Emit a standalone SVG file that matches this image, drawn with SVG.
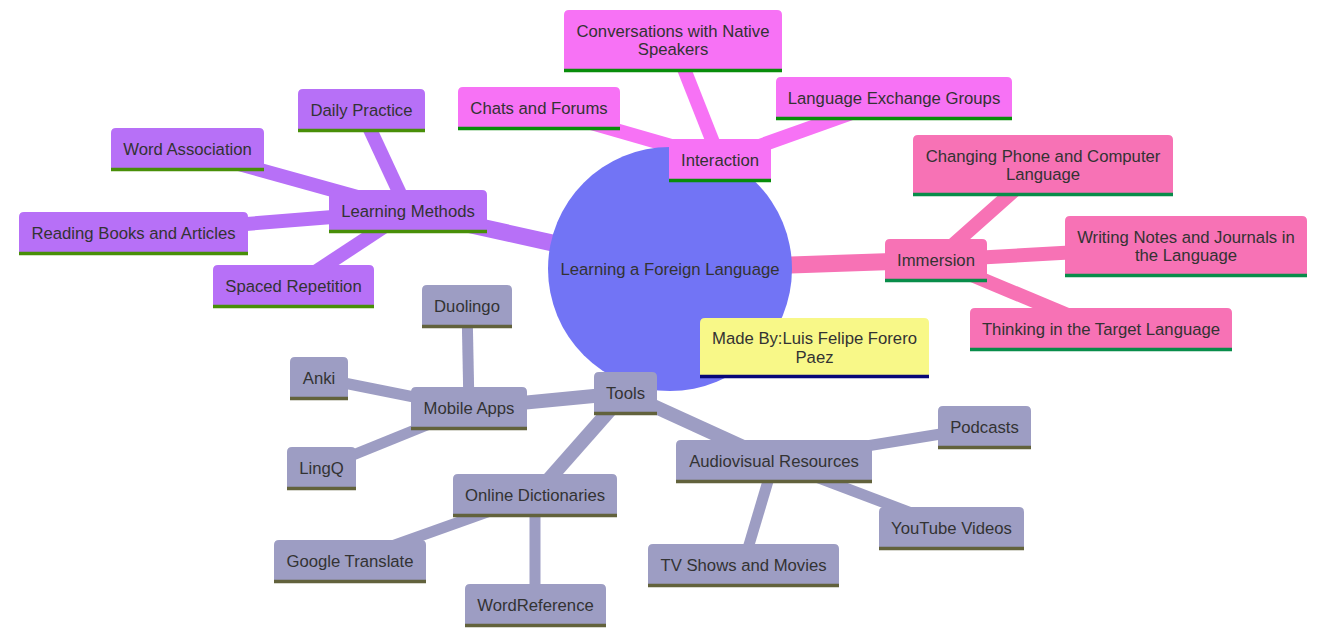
<svg xmlns="http://www.w3.org/2000/svg" width="1323" height="634" viewBox="0 0 1323 634">
<style>
text{font-family:"Liberation Sans",Arial,sans-serif;font-size:16.7px;fill:#333;text-anchor:middle;dominant-baseline:central}
.e{fill:none;stroke-linecap:butt}
.d1{stroke-width:17}.d2{stroke-width:14}.d3{stroke-width:11}
.c0{stroke:#b770f7}.c1{stroke:#f772f5}.c2{stroke:#f772b5}.c3{stroke:#9d9dc3}
.s0{fill:#b770f7}.s1{fill:#f772f5}.s2{fill:#f772b5}.s3{fill:#9d9dc3}.s4{fill:#f8f888}
.l0{stroke:#488f08;stroke-width:3.5}.l1{stroke:#088d0a;stroke-width:3.5}.l2{stroke:#088d4a;stroke-width:3.5}.l3{stroke:#62623c;stroke-width:3.5}.l4{stroke:#070777;stroke-width:3.5}
</style>
<rect width="1323" height="634" fill="#fff"/>
<g id="connectors">
<line class="e d1 c0" x1="670" y1="269" x2="408" y2="211"/>
<line class="e d1 c1" x1="670" y1="269" x2="720" y2="160"/>
<line class="e d1 c2" x1="670" y1="269" x2="936" y2="260"/>
<line class="e d1 c3" x1="670" y1="269" x2="625" y2="393"/>
<line class="e d2 c0" x1="408" y1="211" x2="361" y2="110"/>
<line class="e d2 c0" x1="408" y1="211" x2="188" y2="150"/>
<line class="e d2 c0" x1="408" y1="211" x2="133" y2="233"/>
<line class="e d2 c0" x1="408" y1="211" x2="294" y2="286"/>
<line class="e d2 c1" x1="720" y1="160" x2="673" y2="41"/>
<line class="e d2 c1" x1="720" y1="160" x2="539" y2="108"/>
<line class="e d2 c1" x1="720" y1="160" x2="894" y2="98"/>
<line class="e d2 c2" x1="936" y1="260" x2="1043" y2="165"/>
<line class="e d2 c2" x1="936" y1="260" x2="1186" y2="246"/>
<line class="e d2 c2" x1="936" y1="260" x2="1101" y2="329"/>
<line class="e d2 c3" x1="625" y1="393" x2="469" y2="408"/>
<line class="e d2 c3" x1="625" y1="393" x2="535" y2="495"/>
<line class="e d2 c3" x1="625" y1="393" x2="774" y2="461"/>
<line class="e d3 c3" x1="469" y1="408" x2="467" y2="306"/>
<line class="e d3 c3" x1="469" y1="408" x2="319" y2="378"/>
<line class="e d3 c3" x1="469" y1="408" x2="321" y2="468"/>
<line class="e d3 c3" x1="535" y1="495" x2="350" y2="561"/>
<line class="e d3 c3" x1="535" y1="495" x2="535" y2="605"/>
<line class="e d3 c3" x1="774" y1="461" x2="984" y2="427"/>
<line class="e d3 c3" x1="774" y1="461" x2="951" y2="528"/>
<line class="e d3 c3" x1="774" y1="461" x2="743" y2="565"/>
</g>
<g id="root">
<circle cx="670" cy="269" r="122" fill="#7274f5"/>
<text x="670" y="269">Learning a Foreign Language</text>
</g>
<g id="learning-methods" transform="translate(329,190)">
<path class="s0" d="M0,43V5Q0,0 5,0H153Q158,0 158,5V43Z"/><line class="l0" x1="0" y1="41.5" x2="158" y2="41.5"/>
<text x="79" y="21.5">Learning Methods</text>
</g>
<g id="daily-practice" transform="translate(298,89)">
<path class="s0" d="M0,43V5Q0,0 5,0H122Q127,0 127,5V43Z"/><line class="l0" x1="0" y1="41.5" x2="127" y2="41.5"/>
<text x="63.5" y="21.5">Daily Practice</text>
</g>
<g id="word-association" transform="translate(111,128)">
<path class="s0" d="M0,43V5Q0,0 5,0H148Q153,0 153,5V43Z"/><line class="l0" x1="0" y1="41.5" x2="153" y2="41.5"/>
<text x="76.5" y="21.5">Word Association</text>
</g>
<g id="reading-books" transform="translate(19,212)">
<path class="s0" d="M0,43V5Q0,0 5,0H224Q229,0 229,5V43Z"/><line class="l0" x1="0" y1="41.5" x2="229" y2="41.5"/>
<text x="114.5" y="21.5">Reading Books and Articles</text>
</g>
<g id="spaced-repetition" transform="translate(213,265)">
<path class="s0" d="M0,43V5Q0,0 5,0H156Q161,0 161,5V43Z"/><line class="l0" x1="0" y1="41.5" x2="161" y2="41.5"/>
<text x="80.5" y="21.5">Spaced Repetition</text>
</g>
<g id="interaction" transform="translate(669,139)">
<path class="s1" d="M0,43V5Q0,0 5,0H97Q102,0 102,5V43Z"/><line class="l1" x1="0" y1="41.5" x2="102" y2="41.5"/>
<text x="51" y="21.5">Interaction</text>
</g>
<g id="conversations" transform="translate(564,10)">
<path class="s1" d="M0,62V5Q0,0 5,0H213Q218,0 218,5V62Z"/><line class="l1" x1="0" y1="60.5" x2="218" y2="60.5"/>
<text x="109" y="21">Conversations with Native</text>
<text x="109" y="39">Speakers</text>
</g>
<g id="chats-forums" transform="translate(458,87)">
<path class="s1" d="M0,43V5Q0,0 5,0H157Q162,0 162,5V43Z"/><line class="l1" x1="0" y1="41.5" x2="162" y2="41.5"/>
<text x="81" y="21.5">Chats and Forums</text>
</g>
<g id="language-exchange" transform="translate(776,77)">
<path class="s1" d="M0,43V5Q0,0 5,0H231Q236,0 236,5V43Z"/><line class="l1" x1="0" y1="41.5" x2="236" y2="41.5"/>
<text x="118" y="21.5">Language Exchange Groups</text>
</g>
<g id="immersion" transform="translate(885,239)">
<path class="s2" d="M0,43V5Q0,0 5,0H97Q102,0 102,5V43Z"/><line class="l2" x1="0" y1="41.5" x2="102" y2="41.5"/>
<text x="51" y="21.5">Immersion</text>
</g>
<g id="changing-phone" transform="translate(913,135)">
<path class="s2" d="M0,61V5Q0,0 5,0H255Q260,0 260,5V61Z"/><line class="l2" x1="0" y1="59.5" x2="260" y2="59.5"/>
<text x="130" y="21">Changing Phone and Computer</text>
<text x="130" y="39">Language</text>
</g>
<g id="writing-notes" transform="translate(1065,216)">
<path class="s2" d="M0,61V5Q0,0 5,0H237Q242,0 242,5V61Z"/><line class="l2" x1="0" y1="59.5" x2="242" y2="59.5"/>
<text x="121" y="21">Writing Notes and Journals in</text>
<text x="121" y="39">the Language</text>
</g>
<g id="thinking" transform="translate(970,308)">
<path class="s2" d="M0,43V5Q0,0 5,0H257Q262,0 262,5V43Z"/><line class="l2" x1="0" y1="41.5" x2="262" y2="41.5"/>
<text x="131" y="21.5">Thinking in the Target Language</text>
</g>
<g id="made-by" transform="translate(700,318)">
<path class="s4" d="M0,60V5Q0,0 5,0H224Q229,0 229,5V60Z"/><line class="l4" x1="0" y1="58.5" x2="229" y2="58.5"/>
<text x="114.5" y="20">Made By:Luis Felipe Forero</text>
<text x="114.5" y="39">Paez</text>
</g>
<g id="tools" transform="translate(594,372)">
<path class="s3" d="M0,43V5Q0,0 5,0H58Q63,0 63,5V43Z"/><line class="l3" x1="0" y1="41.5" x2="63" y2="41.5"/>
<text x="31.5" y="21.5">Tools</text>
</g>
<g id="mobile-apps" transform="translate(411,387)">
<path class="s3" d="M0,43V5Q0,0 5,0H111Q116,0 116,5V43Z"/><line class="l3" x1="0" y1="41.5" x2="116" y2="41.5"/>
<text x="58" y="21.5">Mobile Apps</text>
</g>
<g id="duolingo" transform="translate(422,285)">
<path class="s3" d="M0,43V5Q0,0 5,0H85Q90,0 90,5V43Z"/><line class="l3" x1="0" y1="41.5" x2="90" y2="41.5"/>
<text x="45" y="21.5">Duolingo</text>
</g>
<g id="anki" transform="translate(290,357)">
<path class="s3" d="M0,43V5Q0,0 5,0H53Q58,0 58,5V43Z"/><line class="l3" x1="0" y1="41.5" x2="58" y2="41.5"/>
<text x="29" y="21.5">Anki</text>
</g>
<g id="lingq" transform="translate(287,447)">
<path class="s3" d="M0,43V5Q0,0 5,0H64Q69,0 69,5V43Z"/><line class="l3" x1="0" y1="41.5" x2="69" y2="41.5"/>
<text x="34.5" y="21.5">LingQ</text>
</g>
<g id="online-dictionaries" transform="translate(453,474)">
<path class="s3" d="M0,43V5Q0,0 5,0H159Q164,0 164,5V43Z"/><line class="l3" x1="0" y1="41.5" x2="164" y2="41.5"/>
<text x="82" y="21.5">Online Dictionaries</text>
</g>
<g id="google-translate" transform="translate(274,540)">
<path class="s3" d="M0,43V5Q0,0 5,0H147Q152,0 152,5V43Z"/><line class="l3" x1="0" y1="41.5" x2="152" y2="41.5"/>
<text x="76" y="21.5">Google Translate</text>
</g>
<g id="wordreference" transform="translate(465,584)">
<path class="s3" d="M0,43V5Q0,0 5,0H136Q141,0 141,5V43Z"/><line class="l3" x1="0" y1="41.5" x2="141" y2="41.5"/>
<text x="70.5" y="21.5">WordReference</text>
</g>
<g id="audiovisual" transform="translate(676,440)">
<path class="s3" d="M0,43V5Q0,0 5,0H191Q196,0 196,5V43Z"/><line class="l3" x1="0" y1="41.5" x2="196" y2="41.5"/>
<text x="98" y="21.5">Audiovisual Resources</text>
</g>
<g id="podcasts" transform="translate(938,406)">
<path class="s3" d="M0,43V5Q0,0 5,0H88Q93,0 93,5V43Z"/><line class="l3" x1="0" y1="41.5" x2="93" y2="41.5"/>
<text x="46.5" y="21.5">Podcasts</text>
</g>
<g id="youtube" transform="translate(879,507)">
<path class="s3" d="M0,43V5Q0,0 5,0H140Q145,0 145,5V43Z"/><line class="l3" x1="0" y1="41.5" x2="145" y2="41.5"/>
<text x="72.5" y="21.5">YouTube Videos</text>
</g>
<g id="tv-shows" transform="translate(648,544)">
<path class="s3" d="M0,43V5Q0,0 5,0H186Q191,0 191,5V43Z"/><line class="l3" x1="0" y1="41.5" x2="191" y2="41.5"/>
<text x="95.5" y="21.5">TV Shows and Movies</text>
</g>
</svg>
